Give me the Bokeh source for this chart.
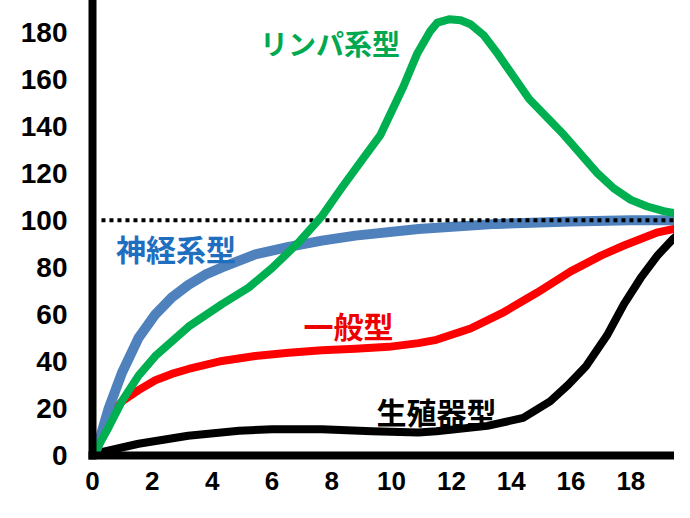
from bokeh.plotting import figure
from bokeh.models import Range1d, FixedTicker, Label
from bokeh.embed import file_html
from bokeh.resources import INLINE

# --- data (age in years, size as % of age-20 value) ---
x_ticks = [0, 2, 4, 6, 8, 10, 12, 14, 16, 18]
y_ticks = [0, 20, 40, 60, 80, 100, 120, 140, 160, 180]

neural_age = [0.15, 0.54, 0.98, 1.54, 2.1, 2.65, 3.2, 3.77, 4.33, 5.44, 6.56, 7.67, 8.79, 10.9, 13.5,
              16.0, 18.0, 20.0]
neural_val = [3, 20, 35, 50, 60, 67.2, 72.5, 76.9, 80, 85.5, 88.7, 91.4, 93.5, 96.3, 98.5,
              99.5, 100, 100]

lymph_age = [0.15, 0.54, 0.98, 1.54, 2.1, 3.21, 4.33, 5.22, 6.0, 6.9, 7.67, 8.34, 9.07, 9.63, 10.4, 10.86,
             11.3, 11.53, 11.92, 12.31, 12.64, 13.09, 13.54, 14.6, 15.76, 16.9, 17.43, 18.0, 18.55,
             19.1, 20.0]
lymph_val = [3, 12, 23, 34, 42.3, 54.8, 64.4, 71.4, 79.7, 90.7, 101.8, 114, 126.7, 136.4, 157, 171,
             180.6, 184.1, 185.5, 185.1, 183.4, 178.6, 171, 151.6, 136.4, 119.8, 113.6, 108.7, 105.9,
             103.9, 101.8]

general_age = [0.15, 0.54, 0.98, 1.54, 2.1, 2.65, 3.21, 4.33, 5.44, 6.56, 7.67, 8.79, 9.9, 10.9, 11.5,
               12.64, 13.76, 14.87, 15.99, 17.0, 17.77, 18.9, 19.9, 20.0]
general_val = [3, 16, 23, 27.8, 32, 34.7, 36.8, 40.2, 42.3, 43.7, 44.8, 45.4, 46.2, 47.8, 49.2,
               54, 61, 69.3, 78.3, 85, 89.3, 94.9, 97.6, 98]

repro_age = [0.15, 1.54, 3.2, 4.9, 6.0, 7.67, 9.34, 10.9, 11.5, 13.2, 14.4, 15.3, 15.9, 16.5, 17.2,
             17.77, 18.33, 18.9, 19.4, 19.9, 20.0]
repro_val = [1, 5, 8.4, 10.5, 11.2, 11.2, 10.3, 9.8, 10.3, 12.6, 16, 23, 30, 38, 51,
             64.4, 75.5, 85.2, 92, 97, 97.5]

ref_x = [0.3, 20.0]
ref_y = [100, 100]

p = figure(width=674, height=502, output_backend="svg", toolbar_location=None,
           x_range=Range1d(0, 19.46), y_range=Range1d(0, 193.5),
           min_border_left=92, min_border_right=0, min_border_top=0, min_border_bottom=47)
p.outline_line_color = None
p.grid.visible = False
p.background_fill_color = "white"
p.border_fill_color = "white"

p.xaxis.ticker = FixedTicker(ticks=x_ticks)
p.yaxis.ticker = FixedTicker(ticks=y_ticks)
for ax in (p.xaxis, p.yaxis):
    ax.axis_line_width = 8
    ax.axis_line_color = "black"
    ax.axis_line_cap = "square"
    ax.major_tick_line_color = None
    ax.minor_tick_line_color = None
    ax.major_tick_out = 0
    ax.major_tick_in = 0
    ax.major_label_text_font = "Liberation Sans"
    ax.major_label_text_font_style = "bold"
    ax.major_label_text_color = "black"
p.xaxis.major_label_text_font_size = "26px"
p.yaxis.major_label_text_font_size = "28px"
p.xaxis.major_label_standoff = 16
p.yaxis.major_label_standoff = 25

style = dict(line_join="round", line_cap="round")
p.line(general_age, general_val, line_color="#ff0000", line_width=8, **style)
p.line(repro_age, repro_val, line_color="black", line_width=8, **style)
p.line(neural_age, neural_val, line_color="#4f81bd", line_width=10, **style)
p.line(ref_x, ref_y, line_color="black", line_width=4, line_dash="4 4")
p.line(lymph_age, lymph_val, line_color="#00b050", line_width=8, **style)

cjk = "Noto Sans CJK JP"
labels = [
    ("リンパ系型", 7.94, 175.4, "#00a850", "28px"),
    ("神経系型", 2.79, 88.2, "#1f6fc0", "30px"),
    ("一般型", 8.56, 55.7, "#ee0000", "30px"),
    ("生殖器型", 11.5, 18.9, "black", "30px"),
]
for txt, lx, ly, col, fs in labels:
    p.add_layout(Label(x=lx, y=ly, text=txt, text_align="center", text_baseline="middle",
                       text_font=cjk, text_font_style="bold", text_font_size=fs, text_color=col))

open("out.html", "w").write(file_html(p, INLINE))
